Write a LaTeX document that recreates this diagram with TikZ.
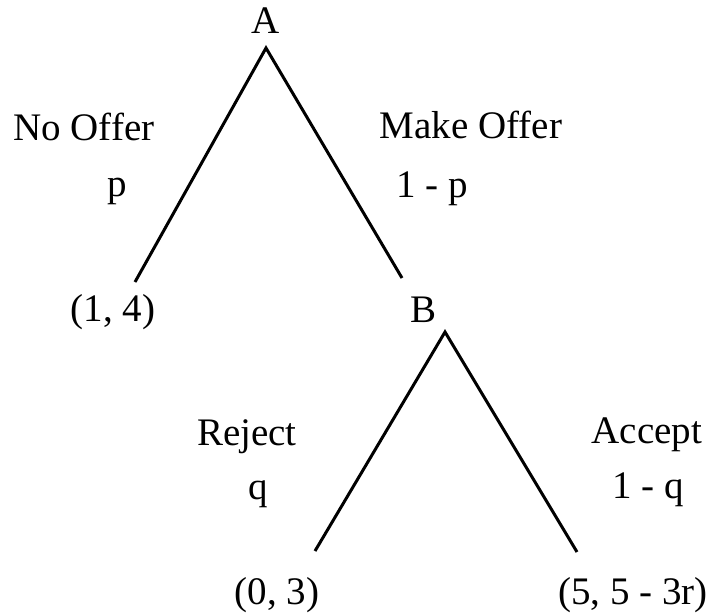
\documentclass[tikz,border=0pt]{standalone}
\usepackage{fontspec}
\setmainfont{Liberation Serif}
\usetikzlibrary{positioning}

\begin{document}
\begin{tikzpicture}[x=1pt, y=-1pt,
    every node/.style={font=\fontsize{39}{46}\selectfont, inner sep=0pt, anchor=base},
    branch/.style={line width=3pt}]
  \useasboundingbox (0,0) rectangle (709,613);

  % decision nodes
  \node (A) at (266,33) {A};
  \node (B) at (424,322) {B};

  % branch end points
  \coordinate (Atip) at (266,48);
  \coordinate (Aleft) at (135,282);
  \coordinate (Aright) at (402,278);
  \coordinate (Btip) at (445,332);
  \coordinate (Bleft) at (315,551);
  \coordinate (Bright) at (577,552);

  % branches
  \draw[branch] (Aleft) -- (Atip) -- (Aright);
  \draw[branch] (Bleft) -- (Btip) -- (Bright);

  % labels of the first move
  \node (nooffer) at (84,140) {No Offer};
  \node (pleft) at (117,196) {p};
  \node (makeoffer) at (471,138) {Make Offer};
  \node (pright) at (432,197) {1 - p};

  % labels of the second move
  \node (reject) at (247,445) {Reject};
  \node (qleft) at (258,499) {q};
  \node (accept) at (647,443) {Accept};
  \node (qright) at (648,498) {1 - q};

  % payoffs
  \node (pay14) at (113,321) {(1, 4)};
  \node (pay03) at (277,604) {(0, 3)};
  \node (pay55) at (633,604) {(5, 5 - 3r)};
\end{tikzpicture}
\end{document}
